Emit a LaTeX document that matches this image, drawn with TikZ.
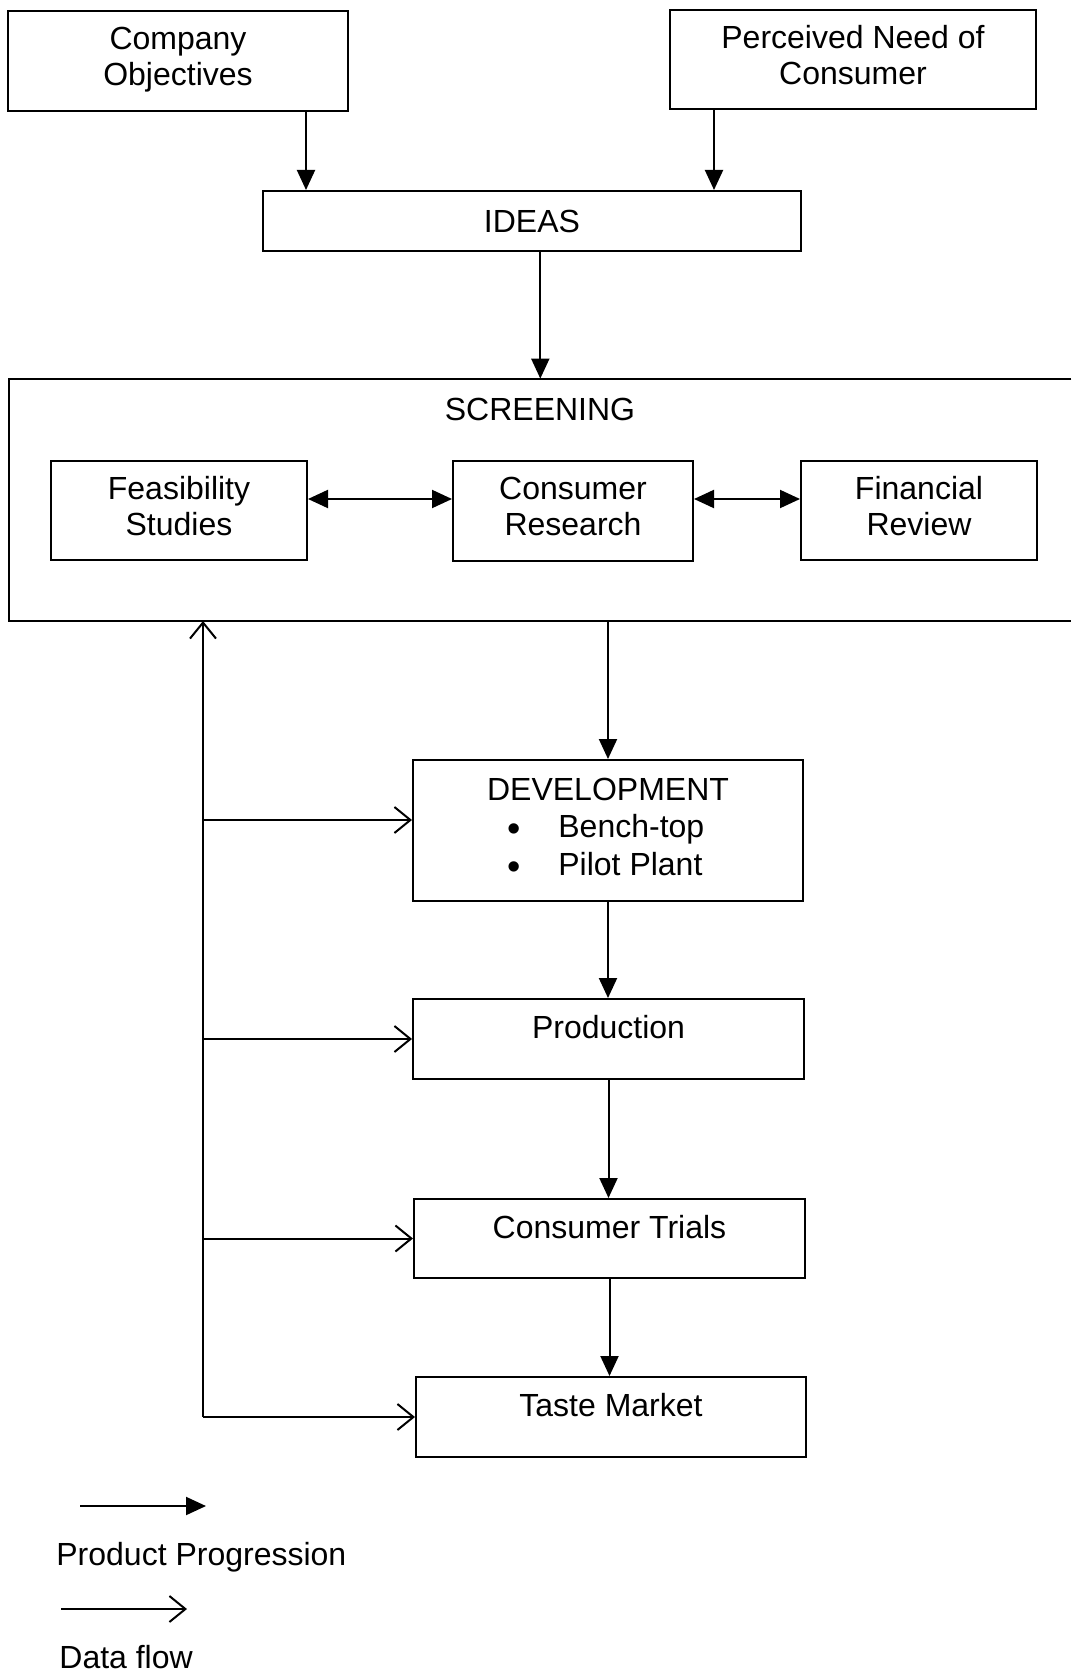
\documentclass[tikz,border=0pt]{standalone}
\usepackage{fontspec}
\setmainfont{Liberation Sans}
\usetikzlibrary{arrows.meta}

\begin{document}
\begin{tikzpicture}[x=0.5pt, y=-0.5pt, every node/.style={font=\fontsize{16}{18}\selectfont}]
    \tikzset{box/.style={draw, line width=1pt, inner sep=2pt, align=center},
             two/.style={text depth=4.6pt},
             low/.style={text depth=12pt},
             prog/.style={line width=1pt, -{Triangle[length=10pt,width=9pt]}},
             both/.style={line width=1pt, {Triangle[length=10pt,width=9pt]}-{Triangle[length=10pt,width=9pt]}},
             flow/.style={line width=1pt, -{Straight Barb[length=8pt,width=13pt]}}}
    \newcommand{\bigdot}{\raisebox{-2pt}{\fontsize{19}{18}\selectfont\textbullet}}
    \useasboundingbox (0,0) rectangle (1071,1673);
    % top of the chart
    \node[box, two, minimum width=170pt, minimum height=50pt] (comp) at (178,61) {Company\\Objectives};
    \node[box, two, minimum width=183pt, minimum height=49.5pt] (need) at (853,60) {Perceived Need of\\Consumer};
    \node[box, minimum width=269pt, minimum height=30pt] (ideas) at (532,221) {IDEAS};
    % screening stage
    \node[inner sep=0pt, minimum width=530.7pt, minimum height=121pt] (scr) at (540.3,500) {};
    \draw[line width=1pt] (scr.north east) -- (scr.north west) -- (scr.south west) -- (scr.south east);
    \node (scrt) at (540,409) {SCREENING};
    \node[box, two, minimum width=128pt, minimum height=49.5pt] (feas) at (179,510.5) {Feasibility\\Studies};
    \node[box, two, minimum width=120pt, minimum height=50pt] (cres) at (573,511) {Consumer\\Research};
    \node[box, two, minimum width=118pt, minimum height=49.5pt] (fin) at (919,510.5) {Financial\\Review};
    % later stages
    \node[box, minimum width=195pt, minimum height=70.5pt] (dev) at (608,830.5)
        {\renewcommand{\arraystretch}{1.04}%
         \begin{tabular}{@{\hspace{10pt}}c@{\hspace{19pt}}l@{}}
           \multicolumn{2}{@{}c@{}}{DEVELOPMENT}\\
           \bigdot & Bench-top\\
           \bigdot & Pilot Plant
         \end{tabular}};
    \node[box, low, minimum width=195.5pt, minimum height=40pt] (prod) at (608.5,1039) {Production};
    \node[box, low, minimum width=195.5pt, minimum height=39.5pt] (trials) at (609.5,1238.5) {Consumer Trials};
    \node[box, low, minimum width=195pt, minimum height=40pt] (taste) at (611,1417) {Taste Market};

    \coordinate (cx) at (306,0);
    \coordinate (nx) at (714,0);
    \coordinate (ry) at (0,499);
    \coordinate (dy) at (0,820);
    \coordinate (fb) at (203,621);
    \draw[prog] (comp.south -| cx) -- (ideas.north -| cx);
    \draw[prog] (need.south -| nx) -- (ideas.north -| nx);
    \draw[prog] (ideas.south -| scr.north) -- (scr.north);
    \draw[both] (feas.east |- ry) -- (cres.west |- ry);
    \draw[both] (cres.east |- ry) -- (fin.west |- ry);
    \draw[prog] (scr.south -| dev.north) -- (dev.north);
    \draw[prog] (dev.south) -- (dev.south |- prod.north);
    \draw[prog] (prod.south) -- (prod.south |- trials.north);
    \draw[prog] (trials.south) -- (trials.south |- taste.north);

    % data flow back to screening
    \draw[flow] (fb |- taste.west) -- (fb);
    \draw[flow] (fb |- dy) -- (dev.west |- dy);
    \draw[flow] (fb |- prod.west) -- (prod.west);
    \draw[flow] (fb |- trials.west) -- (trials.west);
    \draw[flow] (fb |- taste.west) -- (taste.west);

    % key
    \coordinate (pa) at (80,1506);
    \coordinate (pb) at (206,1506);
    \coordinate (fa) at (61,1609);
    \coordinate (fz) at (187,1609);
    \draw[prog] (pa) -- (pb);
    \node[anchor=west, inner sep=0pt] (pp) at (56,1557) {Product Progression};
    \draw[flow] (fa) -- (fz);
    \node[anchor=west, inner sep=0pt] (df) at (59,1657) {Data flow};
\end{tikzpicture}
\end{document}
